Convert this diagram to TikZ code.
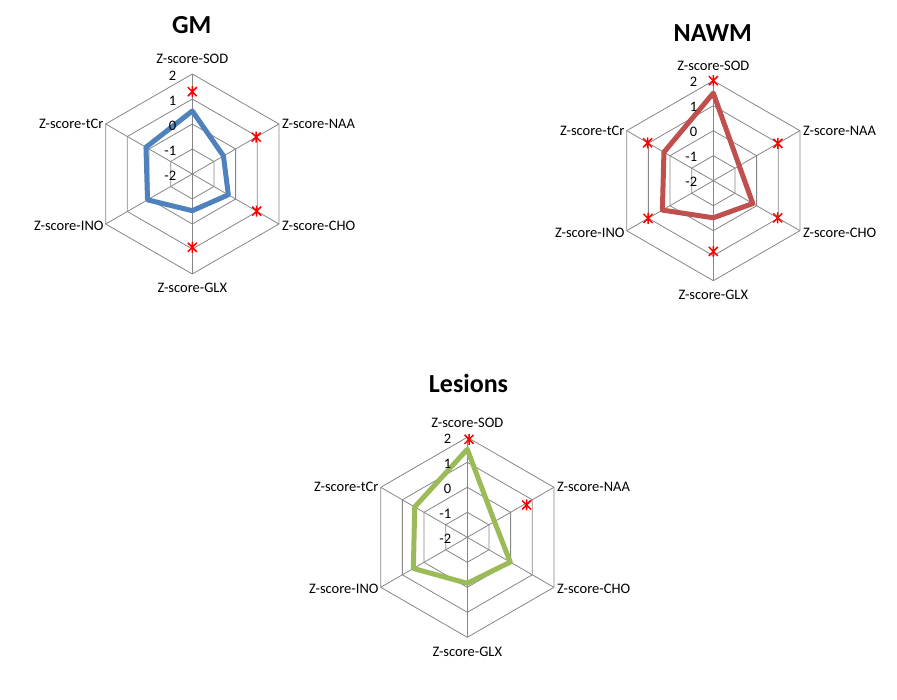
\documentclass[tikz,border=0pt]{standalone}
\usepackage{fontspec}
\setmainfont{Carlito}

\definecolor{gridgray}{HTML}{868686}
\definecolor{gmblue}{HTML}{4F81BD}
\definecolor{nawmred}{HTML}{C0504D}
\definecolor{lesgreen}{HTML}{9BBB59}

\tikzset{
  gridline/.style={draw=gridgray,line width=0.8pt},
  ticklabel/.style={inner sep=0pt,anchor=east,font=\fontsize{14.5}{17}\selectfont},
  axislabel/.style={inner sep=0pt,font=\fontsize{14.5}{17}\selectfont},
  charttitle/.style={inner sep=0pt,font=\fontsize{26}{30}\selectfont\bfseries},
  dataline/.style={line width=5pt,line join=round},
  zstar/.pic={
    \draw[red,line width=1.5pt] (0,-5.5) -- (0,5.5) (-4.5,-4.5) -- (4.5,4.5) (-4.5,4.5) -- (4.5,-4.5);
  }
}

% hexagonal grid, spokes and labels of one radar chart
\newcommand{\radaraxes}[1]{%
  \foreach \r in {25,50,75,100}
    \draw[gridline] (90:\r) -- (30:\r) -- (-30:\r) -- (-90:\r) -- (-150:\r) -- (150:\r) -- cycle;
  \foreach \a in {90,30,-30,-90,-150,150}
    \draw[gridline] (0,0) -- (\a:100);
  \node[axislabel,anchor=base] (#1-sod) at (0,110) {Z-score-SOD};
  \node[axislabel,anchor=west] (#1-naa) at ([xshift=3pt]30:100) {Z-score-NAA};
  \node[axislabel,anchor=west] (#1-cho) at ([xshift=3pt,yshift=-2pt]-30:100) {Z-score-CHO};
  \node[axislabel,anchor=base] (#1-glx) at (0,-119) {Z-score-GLX};
  \node[axislabel,anchor=east] (#1-ino) at ([xshift=-2pt,yshift=-2pt]-150:100) {Z-score-INO};
  \node[axislabel,anchor=east] (#1-tcr) at ([xshift=-2pt]150:100) {Z-score-tCr};
}
% tick labels along the SOD axis, put over the data line
\newcommand{\radarticks}[1]{%
  \foreach \v [count=\i from 0] in {-2,-1,0,1,2}
    \node[ticklabel] (#1-tick\i) at (-16,25*\i-1.5) {\v};
}

\begin{document}
\begin{tikzpicture}[x=1pt,y=1pt]
  \useasboundingbox (0,0) rectangle (897,699);

  % GM
  \node[charttitle] (gm-title) at (191.7,674) {GM};
  \begin{scope}[shift={(192.3,525)}]
    \radaraxes{gm}
    \draw[dataline,gmblue] (90:63) -- (30:36) -- (-30:41.6) -- (-90:36.7)
      -- (-150:51.7) -- (150:53.5) -- cycle;
    \radarticks{gm}
    \pic at (90:82.3) {zstar};
    \pic at (30:73.8) {zstar};
    \pic at (-30:74.3) {zstar};
    \pic at (-90:73.3) {zstar};
  \end{scope}

  % NAWM
  \node[charttitle] (nawm-title) at (712.7,666.2) {NAWM};
  \begin{scope}[shift={(713.3,518.3)}]
    \radaraxes{nawm}
    \draw[dataline,nawmred] (90:87.6) -- (30:29.9) -- (-30:45.6) -- (-90:37.1)
      -- (-150:58.8) -- (150:57) -- cycle;
    \radarticks{nawm}
    \pic at (90:100) {zstar};
    \pic at (30:74.6) {zstar};
    \pic at (-30:74.4) {zstar};
    \pic at (-90:70.7) {zstar};
    \pic at (-150:75.4) {zstar};
    \pic at (150:75.8) {zstar};
  \end{scope}

  % Lesions
  \node[charttitle] (les-title) at (468.5,315.7) {Lesions};
  \begin{scope}[shift={(467.3,161.7)}]
    \radaraxes{les}
    \draw[dataline,lesgreen] (90:88) -- (30:31.4) -- (-30:49.6) -- (-90:46)
      -- (-150:62.3) -- (150:60.7) -- cycle;
    \radarticks{les}
    \pic at (89:98) {zstar};
    \pic at (28.6:67.5) {zstar};
  \end{scope}
\end{tikzpicture}
\end{document}
